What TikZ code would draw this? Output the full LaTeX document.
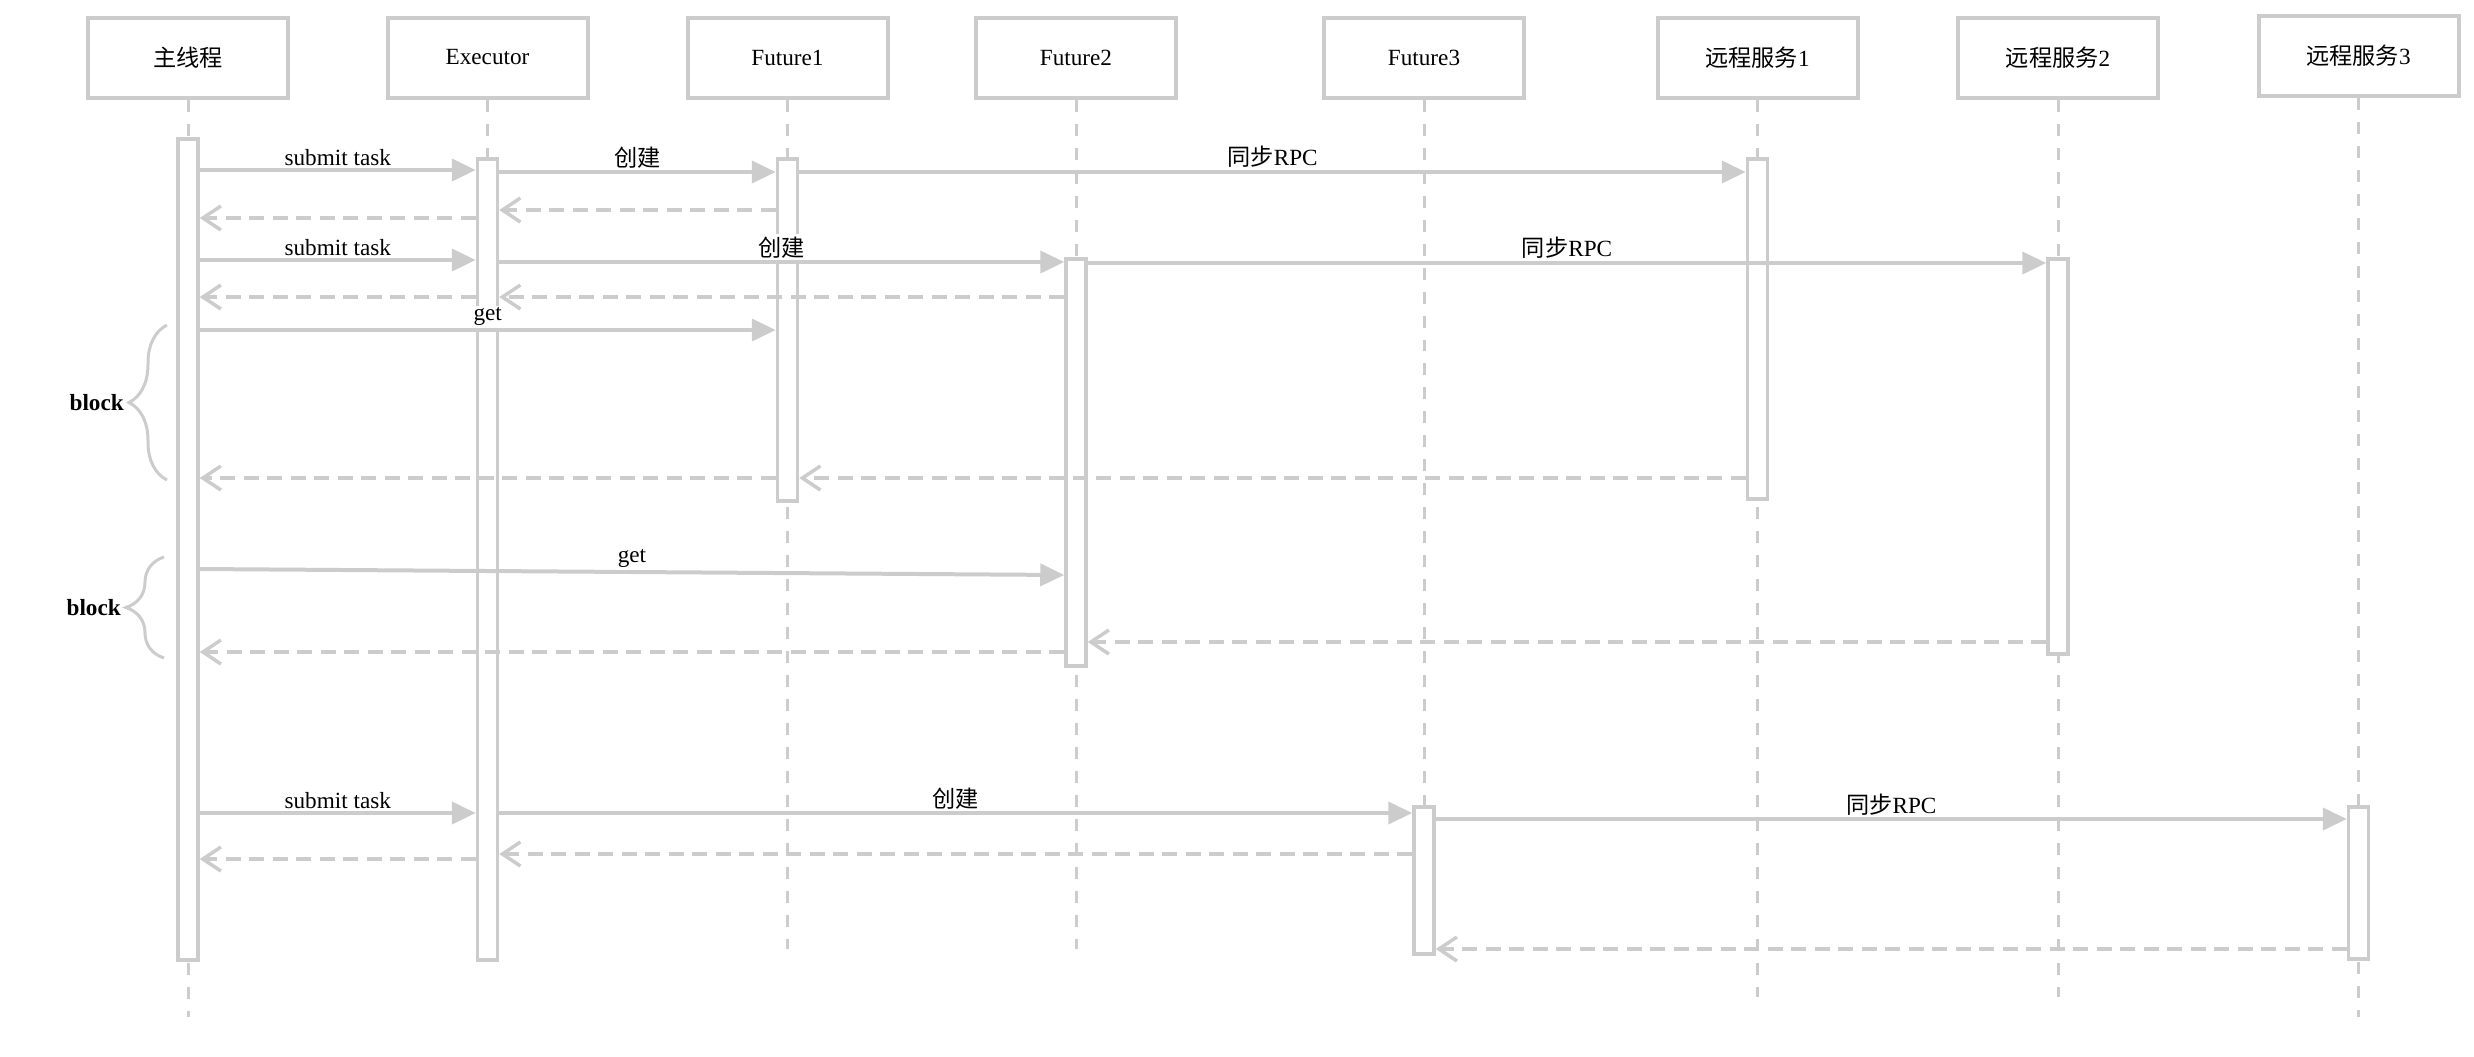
\documentclass[tikz,border=0pt]{standalone}
\usepackage{fontspec}
\setmainfont{Liberation Serif}
\newfontfamily\cjk{Noto Sans CJK SC}
\usetikzlibrary{positioning, arrows.meta, decorations.pathreplacing}
\definecolor{linegray}{RGB}{204,204,204}
\newcommand{\zh}[1]{{\cjk #1}}

\begin{document}
\begin{tikzpicture}
        [actor/.style={draw=linegray, line width=0.04cm, minimum width=2cm, minimum height=0.8cm, inner sep=0pt},
         actbar/.style={draw=linegray, fill=white, line width=0.035cm, minimum width=0.2cm, inner sep=0pt, anchor=north},
         lifeline/.style={linegray, line width=0.03cm, dash pattern=on 0.12cm off 0.12cm},
         call/.style={linegray, line width=0.04cm, -{Triangle[length=0.24cm, width=0.22cm]}},
         reply/.style={linegray, line width=0.035cm, dash pattern=on 0.15cm off 0.085cm,
                       -{Straight Barb[length=0.18cm, width=0.24cm, line width=0.035cm]}},
         msg/.style={fill=white, inner sep=0.6pt, text=black},
         blockbrace/.style={linegray, line width=0.03cm, decorate, decoration={brace, amplitude=0.38cm}},
         blocklabel/.style={left=0.30cm, text=black, font=\fontsize{6.6}{8}\selectfont\bfseries},
         font=\fontsize{6.6}{8}\selectfont]
        \useasboundingbox (0,0) rectangle (24.74,-10.56);

        % participants
        \node[actor] (main) at (1.88,-0.575) {\zh{主线程}};
        \node[actor] (exec) at (4.875,-0.575) {Executor};
        \node[actor] (fut1) at (7.875,-0.575) {Future1};
        \node[actor] (fut2) at (10.76,-0.575) {Future2};
        \node[actor] (fut3) at (14.24,-0.575) {Future3};
        \node[actor] (srv1) at (17.575,-0.575) {\zh{远程服务}1};
        \node[actor] (srv2) at (20.58,-0.575) {\zh{远程服务}2};
        \node[actor] (srv3) at (23.585,-0.56) {\zh{远程服务}3};

        % lifelines and activations
        \foreach \n/\e in {main/10.17, exec/9.58, fut1/9.49, fut2/9.49, fut3/9.52, srv1/9.97, srv2/9.97, srv3/10.17}
            \draw[lifeline] (\n.south) -- (\n.south |- 0,-\e);
        \foreach \n/\t/\h in {main/1.37/8.21, exec/1.57/8.01, fut1/1.57/3.42, srv1/1.57/3.40,
                              fut2/2.57/4.07, srv2/2.57/3.95, fut3/8.05/1.47, srv3/8.05/1.52}
            \node[actbar, minimum height=\h cm] (a\n) at (\n |- 0,-\t) {};

        % first task
        \draw[call] (amain.east |- 0,-1.70) -- node[msg, above] {submit task} (aexec.west |- 0,-1.70);
        \draw[call] (aexec.east |- 0,-1.72) -- node[msg, above] {\zh{创建}} (afut1.west |- 0,-1.72);
        \draw[call] (afut1.east |- 0,-1.72) -- node[msg, above] {\zh{同步}RPC} (asrv1.west |- 0,-1.72);
        \draw[reply] (afut1.west |- 0,-2.10) -- (aexec.east |- 0,-2.10);
        \draw[reply] (aexec.west |- 0,-2.18) -- (amain.east |- 0,-2.18);

        % second task
        \draw[call] (amain.east |- 0,-2.60) -- node[msg, above] {submit task} (aexec.west |- 0,-2.60);
        \draw[call] (aexec.east |- 0,-2.62) -- node[msg, above] {\zh{创建}} (afut2.west |- 0,-2.62);
        \draw[call] (afut2.east |- 0,-2.63) -- node[msg, above] {\zh{同步}RPC} (asrv2.west |- 0,-2.63);
        \draw[reply] (afut2.west |- 0,-2.97) -- (aexec.east |- 0,-2.97);
        \draw[reply] (aexec.west |- 0,-2.97) -- (amain.east |- 0,-2.97);

        % blocking gets
        \draw[call] (amain.east |- 0,-3.30) -- node[msg, above] {get} (afut1.west |- 0,-3.30);
        \draw[reply] (asrv1.west |- 0,-4.78) -- (afut1.east |- 0,-4.78);
        \draw[reply] (afut1.west |- 0,-4.78) -- (amain.east |- 0,-4.78);
        \draw[call] (amain.east |- 0,-5.69) -- node[msg, above] {get} (afut2.west |- 0,-5.75);
        \draw[reply] (asrv2.west |- 0,-6.42) -- (afut2.east |- 0,-6.42);
        \draw[reply] (afut2.west |- 0,-6.52) -- (amain.east |- 0,-6.52);

        \draw[blockbrace] (1.67,-4.80) -- node[blocklabel] (blk1) {block} (1.67,-3.25);
        \draw[blockbrace] (1.64,-6.58) -- node[blocklabel] (blk2) {block} (1.64,-5.57);

        % third task
        \draw[call] (amain.east |- 0,-8.13) -- node[msg, above] {submit task} (aexec.west |- 0,-8.13);
        \draw[call] (aexec.east |- 0,-8.13) -- node[msg, above] {\zh{创建}} (afut3.west |- 0,-8.13);
        \draw[call] (afut3.east |- 0,-8.19) -- node[msg, above] {\zh{同步}RPC} (asrv3.west |- 0,-8.19);
        \draw[reply] (asrv3.west |- 0,-9.49) -- (afut3.east |- 0,-9.49);
        \draw[reply] (afut3.west |- 0,-8.54) -- (aexec.east |- 0,-8.54);
        \draw[reply] (aexec.west |- 0,-8.59) -- (amain.east |- 0,-8.59);
    \end{tikzpicture}
\end{document}
